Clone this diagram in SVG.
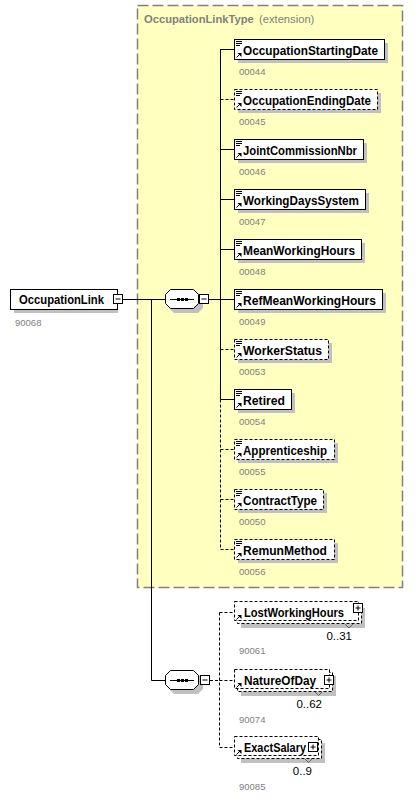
<svg xmlns="http://www.w3.org/2000/svg" xmlns:xlink="http://www.w3.org/1999/xlink" width="417" height="801" viewBox="0 0 417 801">
<style>
.bg{fill:#ffffff}
.ext{fill:#ffffc0;stroke:#808080;stroke-width:1.5;stroke-dasharray:11,4}
.ttl{font-family:"Liberation Sans",Arial,sans-serif;font-size:11.2px;fill:#808080}
.box{fill:#ffffff;stroke:#000;stroke-width:1}
.opt{fill:#ffffff;stroke:#000;stroke-width:1;stroke-dasharray:3,2}
.sh{fill:#c0c0c0}
.lbl{font-family:"Liberation Sans",Arial,sans-serif;font-size:13px;font-weight:bold;fill:#000}
.code{font-family:"Liberation Sans",Arial,sans-serif;font-size:9.5px;fill:#808080}
.card{font-family:"Liberation Sans",Arial,sans-serif;font-size:11.5px;fill:#000}
.ln{fill:none;stroke:#000;stroke-width:1}
.dln{fill:none;stroke:#000;stroke-width:1;stroke-dasharray:3,2}
.btn{fill:#fff;stroke:#000;stroke-width:1}
</style>
<defs>
<g id="arr">
<path d="M2.5,18.5 L6,15" class="ln"/>
<path d="M3.5,14 L7.5,14 L7.5,18 Z" fill="#000"/>
</g>
<g id="ref">
<path d="M2,2.5h6M2,4.5h6M2,6.5h4" class="ln"/>
<use xlink:href="#arr"/>
</g>
<g id="minus">
<rect x="0.5" y="0.5" width="9" height="9" class="btn"/>
<path d="M2.5,5h5" class="ln"/>
</g>
<g id="plus">
<rect x="0.5" y="0.5" width="9" height="9" class="btn"/>
<path d="M2.5,5h5M5,2.5v5" class="ln"/>
</g>
<g id="seq">
<polygon points="5,0 29,0 34,5 34,15 29,20 5,20 0,15 0,5" transform="translate(4,4)" class="sh"/>
<polygon points="5.5,0.5 28.5,0.5 33.5,5.5 33.5,14.5 28.5,19.5 5.5,19.5 0.5,14.5 0.5,5.5" class="box"/>
<path d="M5,10.5h24" class="ln"/>
<rect x="12" y="9" width="3" height="3" fill="#000"/>
<rect x="16" y="9" width="3" height="3" fill="#000"/>
<rect x="20" y="9" width="3" height="3" fill="#000"/>
</g>
</defs>
<rect x="0" y="0" width="417" height="801" class="bg"/>

<g id="extension">
<rect x="137.5" y="5.5" width="265" height="582" class="ext"/>
<text x="144" y="23" class="ttl" font-weight="bold">OccupationLinkType</text>
<text x="259" y="23" class="ttl">(extension)</text>
</g>

<g id="connectors">
<path d="M123,299.5H165" class="ln"/>
<path d="M151.5,299.5V680.5H165" class="ln"/>
<path d="M209,299.5H220.5" class="ln"/>
<path d="M220.5,49V399.5" class="ln"/>
<path d="M220.5,399.5V549.5" class="dln"/>
<path d="M220.5,49.5H234" class="ln"/>
<path d="M220.5,99.5H234" class="dln"/>
<path d="M220.5,149.5H234" class="ln"/>
<path d="M220.5,199.5H234" class="ln"/>
<path d="M220.5,249.5H234" class="ln"/>
<path d="M220.5,299.5H234" class="ln"/>
<path d="M220.5,349.5H234" class="dln"/>
<path d="M220.5,399.5H234" class="ln"/>
<path d="M220.5,449.5H234" class="dln"/>
<path d="M220.5,499.5H234" class="dln"/>
<path d="M220.5,549.5H234" class="dln"/>
<path d="M210,680.5H219.5" class="dln"/>
<path d="M219.5,612.5V747.5" class="dln"/>
<path d="M219.5,612.5H234" class="dln"/>
<path d="M219.5,680.5H234" class="dln"/>
<path d="M219.5,747.5H234" class="dln"/>
</g>

<g id="OccupationLink">
<rect x="14" y="293" width="104" height="20" class="sh"/>
<rect x="10.5" y="289.5" width="107" height="20" class="box"/>
<text x="19" y="304" class="lbl" textLength="85" lengthAdjust="spacingAndGlyphs">OccupationLink</text>
<use xlink:href="#minus" x="113" y="294"/>
<text x="15" y="326" class="code">90068</text>
</g>

<g id="sequence1">
<use xlink:href="#seq" x="165" y="289"/>
<use xlink:href="#minus" x="199" y="294"/>
</g>

<g id="OccupationStartingDate">
<rect x="238" y="43" width="150" height="20" class="sh"/>
<rect x="234.5" y="39.5" width="150" height="20" class="box"/>
<use xlink:href="#ref" x="234" y="39"/>
<text x="243" y="54.5" class="lbl" textLength="135" lengthAdjust="spacingAndGlyphs">OccupationStartingDate</text>
<text x="239" y="75" class="code">00044</text>
</g>
<g id="OccupationEndingDate">
<rect x="238" y="93" width="143" height="20" class="sh"/>
<rect x="234.5" y="89.5" width="143" height="20" class="opt"/>
<use xlink:href="#ref" x="234" y="89"/>
<text x="243" y="104.5" class="lbl" textLength="128" lengthAdjust="spacingAndGlyphs">OccupationEndingDate</text>
<text x="239" y="125" class="code">00045</text>
</g>
<g id="JointCommissionNbr">
<rect x="238" y="143" width="129" height="20" class="sh"/>
<rect x="234.5" y="139.5" width="129" height="20" class="box"/>
<use xlink:href="#ref" x="234" y="139"/>
<text x="243" y="154.5" class="lbl" textLength="114" lengthAdjust="spacingAndGlyphs">JointCommissionNbr</text>
<text x="239" y="175" class="code">00046</text>
</g>
<g id="WorkingDaysSystem">
<rect x="238" y="193" width="131" height="20" class="sh"/>
<rect x="234.5" y="189.5" width="131" height="20" class="box"/>
<use xlink:href="#ref" x="234" y="189"/>
<text x="243" y="204.5" class="lbl" textLength="116" lengthAdjust="spacingAndGlyphs">WorkingDaysSystem</text>
<text x="239" y="225" class="code">00047</text>
</g>
<g id="MeanWorkingHours">
<rect x="238" y="243" width="127" height="20" class="sh"/>
<rect x="234.5" y="239.5" width="127" height="20" class="box"/>
<use xlink:href="#ref" x="234" y="239"/>
<text x="243" y="254.5" class="lbl" textLength="112" lengthAdjust="spacingAndGlyphs">MeanWorkingHours</text>
<text x="239" y="275" class="code">00048</text>
</g>
<g id="RefMeanWorkingHours">
<rect x="238" y="293" width="148" height="20" class="sh"/>
<rect x="234.5" y="289.5" width="148" height="20" class="box"/>
<use xlink:href="#ref" x="234" y="289"/>
<text x="243" y="304.5" class="lbl" textLength="133" lengthAdjust="spacingAndGlyphs">RefMeanWorkingHours</text>
<text x="239" y="325" class="code">00049</text>
</g>
<g id="WorkerStatus">
<rect x="238" y="343" width="94" height="20" class="sh"/>
<rect x="234.5" y="339.5" width="94" height="20" class="opt"/>
<use xlink:href="#ref" x="234" y="339"/>
<text x="243" y="354.5" class="lbl" textLength="79" lengthAdjust="spacingAndGlyphs">WorkerStatus</text>
<text x="239" y="375" class="code">00053</text>
</g>
<g id="Retired">
<rect x="238" y="393" width="57" height="20" class="sh"/>
<rect x="234.5" y="389.5" width="57" height="20" class="box"/>
<use xlink:href="#ref" x="234" y="389"/>
<text x="243" y="404.5" class="lbl" textLength="42" lengthAdjust="spacingAndGlyphs">Retired</text>
<text x="239" y="425" class="code">00054</text>
</g>
<g id="Apprenticeship">
<rect x="238" y="443" width="100" height="20" class="sh"/>
<rect x="234.5" y="439.5" width="100" height="20" class="opt"/>
<use xlink:href="#ref" x="234" y="439"/>
<text x="243" y="454.5" class="lbl" textLength="84" lengthAdjust="spacingAndGlyphs">Apprenticeship</text>
<text x="239" y="475" class="code">00055</text>
</g>
<g id="ContractType">
<rect x="238" y="493" width="89" height="20" class="sh"/>
<rect x="234.5" y="489.5" width="89" height="20" class="opt"/>
<use xlink:href="#ref" x="234" y="489"/>
<text x="243" y="504.5" class="lbl" textLength="74" lengthAdjust="spacingAndGlyphs">ContractType</text>
<text x="239" y="525" class="code">00050</text>
</g>
<g id="RemunMethod">
<rect x="238" y="543" width="100" height="20" class="sh"/>
<rect x="234.5" y="539.5" width="100" height="20" class="opt"/>
<use xlink:href="#ref" x="234" y="539"/>
<text x="243" y="554.5" class="lbl" textLength="84" lengthAdjust="spacingAndGlyphs">RemunMethod</text>
<text x="239" y="575" class="code">00056</text>
</g>

<g id="sequence2">
<use xlink:href="#seq" x="165" y="670"/>
<use xlink:href="#minus" x="200" y="675"/>
</g>

<g id="LostWorkingHours">
<rect x="241" y="608" width="124" height="20" class="sh"/>
<rect x="237.5" y="604.5" width="124" height="19" class="opt"/>
<rect x="234.5" y="601.5" width="124" height="19" class="opt"/>
<use xlink:href="#arr" x="234" y="601"/>
<text x="244" y="616.5" class="lbl" textLength="100" lengthAdjust="spacingAndGlyphs">LostWorkingHours</text>
<use xlink:href="#plus" x="353" y="603"/>
<path d="M345,624 L349,628 L353,624" fill="none" stroke="#606060" stroke-width="1"/>
<text x="352" y="640" class="card" text-anchor="end">0..31</text>
<text x="239" y="654" class="code">90061</text>
</g>
<g id="NatureOfDay">
<rect x="241" y="676" width="95" height="20" class="sh"/>
<rect x="237.5" y="672.5" width="95" height="19" class="opt"/>
<rect x="234.5" y="669.5" width="95" height="19" class="opt"/>
<use xlink:href="#arr" x="234" y="669"/>
<text x="244" y="684.5" class="lbl" textLength="72" lengthAdjust="spacingAndGlyphs">NatureOfDay</text>
<use xlink:href="#plus" x="324" y="675"/>
<path d="M315,692 L318.5,695.5 L322,692" fill="none" stroke="#606060" stroke-width="1"/>
<text x="322" y="708" class="card" text-anchor="end">0..62</text>
<text x="239" y="723" class="code">90074</text>
</g>
<g id="ExactSalary">
<rect x="241" y="743" width="84" height="20" class="sh"/>
<rect x="237.5" y="739.5" width="84" height="19" class="opt"/>
<rect x="234.5" y="736.5" width="84" height="19" class="opt"/>
<use xlink:href="#arr" x="234" y="736"/>
<text x="244" y="751.5" class="lbl" textLength="62" lengthAdjust="spacingAndGlyphs">ExactSalary</text>
<use xlink:href="#plus" x="308" y="742"/>
<path d="M305,759 L308.5,762.5 L312,759" fill="none" stroke="#606060" stroke-width="1"/>
<text x="312" y="775" class="card" text-anchor="end">0..9</text>
<text x="239" y="790" class="code">90085</text>
</g>
</svg>
